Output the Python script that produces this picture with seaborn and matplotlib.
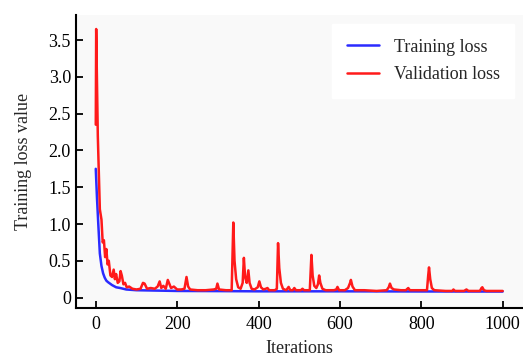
import matplotlib
matplotlib.use("Agg")
import matplotlib.pyplot as plt
import seaborn as sns

# training loss (smooth curve)
train_x = [0, 3, 6, 10, 14, 18, 22, 26, 30, 40, 50, 60, 75, 100, 150, 200, 300, 400, 600, 800, 1000]
train_y = [1.75, 1.35, 1.02, 0.60, 0.43, 0.33, 0.27, 0.23, 0.21, 0.17, 0.14, 0.13, 0.11, 0.10,
           0.095, 0.09, 0.088, 0.085, 0.085, 0.083, 0.082]

# validation loss (peaks and valleys)
val_x = [0, 1, 5, 10, 14, 17, 20, 23, 26, 29, 32, 36, 40, 44, 47, 50, 54, 58, 61, 64, 68, 72,
         76, 82, 90, 100, 110, 116, 120, 126, 135, 145, 152, 157, 161, 166, 172, 177, 180, 185,
         192, 200, 210, 218, 223, 227, 232, 250, 270, 290, 296, 299, 303, 320, 334, 338, 341,
         345, 350, 356, 361, 364, 367, 371, 375, 378, 383, 390, 398, 402, 406, 412, 418, 422,
         426, 440, 445, 448, 451, 455, 460, 468, 474, 478, 484, 488, 492, 504, 508, 512, 526,
         530, 533, 537, 542, 546, 549, 552, 557, 565, 585, 591, 594, 598, 612, 620, 625, 627,
         631, 637, 660, 690, 715, 720, 723, 727, 733, 750, 762, 766, 768, 772, 790, 814, 817,
         819, 822, 826, 832, 860, 876, 879, 883, 905, 911, 916, 944, 948, 950, 954, 960, 980,
         1000]
val_y = [2.35, 3.65, 2.20, 1.20, 1.06, 0.75, 0.78, 0.55, 0.66, 0.45, 0.50, 0.30, 0.28, 0.38,
         0.25, 0.32, 0.20, 0.22, 0.36, 0.30, 0.18, 0.20,
         0.14, 0.15, 0.12, 0.11, 0.12, 0.20, 0.19, 0.12, 0.13, 0.12, 0.15, 0.22, 0.13, 0.16,
         0.12, 0.24, 0.20, 0.13,
         0.15, 0.11, 0.11, 0.12, 0.28, 0.15, 0.11, 0.10, 0.10, 0.11, 0.12, 0.19, 0.11, 0.10,
         0.10, 1.02, 0.50,
         0.25, 0.14, 0.12, 0.20, 0.54, 0.28, 0.20, 0.37, 0.20, 0.12, 0.11, 0.14, 0.22, 0.14,
         0.11, 0.12, 0.13,
         0.10, 0.10, 0.12, 0.74, 0.40, 0.20, 0.12, 0.10, 0.145, 0.10, 0.10, 0.13, 0.10, 0.10,
         0.12, 0.10, 0.10,
         0.58, 0.30, 0.16, 0.13, 0.18, 0.30, 0.20, 0.12, 0.10, 0.10, 0.11, 0.145, 0.10, 0.10,
         0.13, 0.20, 0.24,
         0.15, 0.10, 0.10, 0.09, 0.10, 0.14, 0.19, 0.13, 0.11, 0.10, 0.10, 0.12, 0.13, 0.10,
         0.10, 0.10, 0.30,
         0.41, 0.25, 0.13, 0.10, 0.09, 0.09, 0.11, 0.09, 0.09, 0.11, 0.09, 0.09, 0.13, 0.14,
         0.10, 0.09, 0.09,
         0.09]

y_ticks = [0, 0.5, 1.0, 1.5, 2.0, 2.5, 3.0, 3.5]
y_tick_labels = ["0", "0.5", "1.0", "1.5", "2.0", "2.5", "3.0", "3.5"]
x_ticks = [0, 200, 400, 600, 800, 1000]

sns.set_style("ticks")
plt.rcParams["font.family"] = ["Liberation Serif", "DejaVu Serif"]
plt.rcParams["font.size"] = 13

fig = plt.figure(figsize=(5.23, 3.58), dpi=100)
ax = fig.add_axes([0.145, 0.14, 0.855, 0.818])
ax.set_facecolor("#f9f9f9")

sns.lineplot(x=train_x, y=train_y, color="#2b2bff", linewidth=1.8, label="Training loss", ax=ax)
sns.lineplot(x=val_x, y=val_y, color="#ff1a1a", linewidth=1.8, label="Validation loss", ax=ax)

ax.set_xlim(-49, 1050)
ax.set_ylim(-0.14, 3.84)
ax.set_xticks(x_ticks)
ax.set_yticks(y_ticks)
ax.set_yticklabels(y_tick_labels)
ax.tick_params(direction="in", length=5, width=1.3, labelsize=13, colors="black")
ax.tick_params(axis="x", pad=6)

for s in ["top", "right"]:
    ax.spines[s].set_visible(False)
for s in ["left", "bottom"]:
    ax.spines[s].set_linewidth(1.5)
    ax.spines[s].set_color("black")

ax.set_xlabel("Iterations", fontsize=13, labelpad=5)
ax.set_ylabel("Training loss value", fontsize=13, labelpad=12)

leg = ax.legend(loc="upper right", bbox_to_anchor=(1.0, 1.0), frameon=True, fancybox=False,
                handlelength=1.8, fontsize=13, borderpad=0.8, labelspacing=0.6)
leg.get_frame().set_facecolor("white")
leg.get_frame().set_edgecolor("white")
leg.get_frame().set_alpha(1.0)

fig.savefig("out.png", dpi=100)
